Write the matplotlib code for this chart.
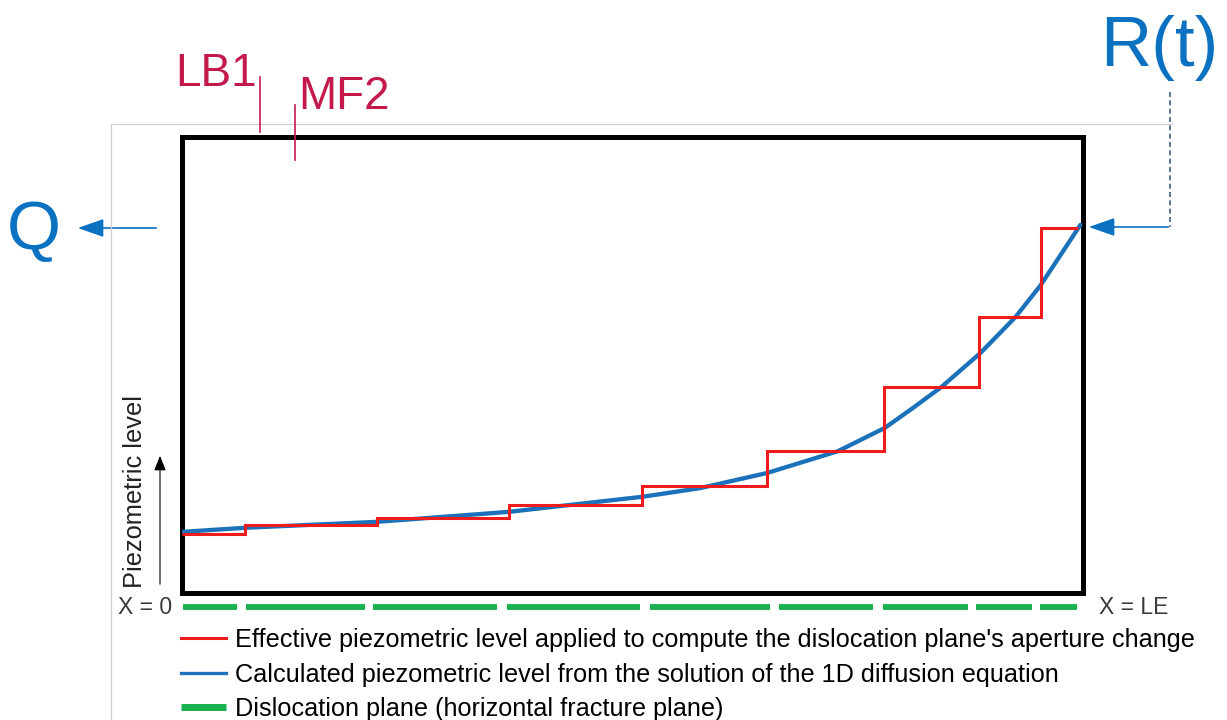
import matplotlib
matplotlib.use('Agg')
import matplotlib.pyplot as plt
from matplotlib.lines import Line2D
from matplotlib.patches import FancyArrowPatch

# figure size in pixels
W, H = 1227, 720

# distance along the plane, as a fraction of LE
step_edges = [0.0, 0.070, 0.216, 0.363, 0.511, 0.649, 0.779, 0.885, 0.953, 0.995]
# effective piezometric level per element (red steps)
step_levels = [0.129, 0.149, 0.164, 0.193, 0.235, 0.311, 0.452, 0.605, 0.800]

# calculated piezometric level (blue curve)
curve_x = [0.0, 0.070, 0.216, 0.363, 0.43, 0.511, 0.575, 0.649, 0.728, 0.780,
           0.81, 0.843, 0.886, 0.925, 0.953, 0.975, 0.997]
curve_y = [0.134, 0.143, 0.156, 0.178, 0.193, 0.211, 0.230, 0.263, 0.311, 0.362,
           0.404, 0.452, 0.526, 0.605, 0.675, 0.741, 0.807]

# dislocation plane elements (green dashes)
plane_start = [0.001, 0.071, 0.212, 0.361, 0.519, 0.663, 0.778, 0.881, 0.952]
plane_end = [0.061, 0.203, 0.350, 0.508, 0.653, 0.767, 0.872, 0.943, 0.993]

legend_labels = [
    "Effective piezometric level applied to compute the dislocation plane's aperture change",
    "Calculated piezometric level from the solution of the 1D diffusion equation",
    "Dislocation plane (horizontal fracture plane)",
]

RED = '#ee1c1c'
BLUE = '#1c72ba'
GREEN = '#19b04f'
TXT_BLUE = '#0b71c1'
CRIMSON = '#c31a4b'

plt.rcParams['font.family'] = ['Liberation Sans', 'DejaVu Sans']


def fp(x, y):
    # pixel position (from top-left) to figure fraction
    return (x / W, 1 - y / H)


def arrow(p0, p1, color, lw, style, scale):
    fig.add_artist(FancyArrowPatch(fp(*p0), fp(*p1), transform=fig.transFigure,
                                   arrowstyle=style, mutation_scale=scale,
                                   color=color, lw=lw))


fig = plt.figure(figsize=(W / 100, H / 100), dpi=100)

# light grey frame of the original panel
fig.add_artist(Line2D([111 / W, 111 / W, 1172 / W], [0, 1 - 124 / H, 1 - 124 / H],
                      transform=fig.transFigure, color='#d0d0d0', lw=0.9))

ax = fig.add_axes([182 / W, 1 - 593 / H, (1083 - 182) / W, (593 - 137) / H])
ax.set_xlim(0, 1)
ax.set_ylim(0, 1)
ax.set_xticks([])
ax.set_yticks([])
for s in ax.spines.values():
    s.set_linewidth(3.6)
    s.set_color('black')
    s.set_capstyle('projecting')

ax.plot(curve_x, curve_y, color=BLUE, lw=3.1, solid_capstyle='round', zorder=3)
ax.stairs(step_levels, step_edges, baseline=None, color=RED, lw=2.2, zorder=4)

for a, b in zip(plane_start, plane_end):
    ax.plot([a, b], [-0.031, -0.031], color=GREEN, lw=4.2, solid_capstyle='butt',
            clip_on=False)

# axis captions
fig.text(*fp(118, 608), 'X = 0', fontsize=16.5, color='#3a3a3a', va='center', ha='left')
fig.text(*fp(1099, 608), 'X = LE', fontsize=16.5, color='#3a3a3a', va='center', ha='left')
fig.text(*fp(135, 491), 'Piezometric level', fontsize=18.3, rotation=90,
         ha='center', va='center', color='#222222')
arrow((160, 587), (160, 453), 'black', 0.8, '-|>,head_length=0.5,head_width=0.2', 18)

# Q outflow
fig.text(*fp(7, 249), 'Q', fontsize=50, color=TXT_BLUE, ha='left', va='baseline')
arrow((159, 228), (75, 228), TXT_BLUE, 1.2, '-|>,head_length=1.0,head_width=0.35', 16)

# R(t) inflow
fig.text(*fp(1100, 66), 'R(t)', fontsize=51, color=TXT_BLUE, ha='left', va='baseline')
fig.add_artist(Line2D([1170 / W, 1170 / W], [1 - 92 / H, 1 - 227 / H],
                      transform=fig.transFigure, color='#3d5f85', lw=1.2,
                      linestyle=(0, (3, 2))))
arrow((1171, 227), (1086, 227), TXT_BLUE, 1.2, '-|>,head_length=1.0,head_width=0.35', 16)

# LB1 / MF2 markers
fig.text(*fp(175, 86), 'LB1', fontsize=33, color=CRIMSON, ha='left', va='baseline')
fig.add_artist(Line2D([260 / W, 260 / W], [1 - 77 / H, 1 - 132 / H],
                      transform=fig.transFigure, color=CRIMSON, lw=1.2))
fig.text(*fp(298, 109), 'MF2', fontsize=33, color=CRIMSON, ha='left', va='baseline')
fig.add_artist(Line2D([295 / W, 295 / W], [1 - 105 / H, 1 - 160 / H],
                      transform=fig.transFigure, color=CRIMSON, lw=1.2))

# legend
handles = [Line2D([], [], color=RED, lw=2.2),
           Line2D([], [], color=BLUE, lw=2.4),
           Line2D([], [], color=GREEN, lw=5.0, solid_capstyle='butt')]
fig.legend(handles, legend_labels, loc='upper left', bbox_to_anchor=fp(181, 628),
           frameon=False, fontsize=18.2, handlelength=1.78, handletextpad=0.37,
           labelspacing=0.42, borderpad=0, borderaxespad=0)

fig.savefig('out.png', dpi=100)
